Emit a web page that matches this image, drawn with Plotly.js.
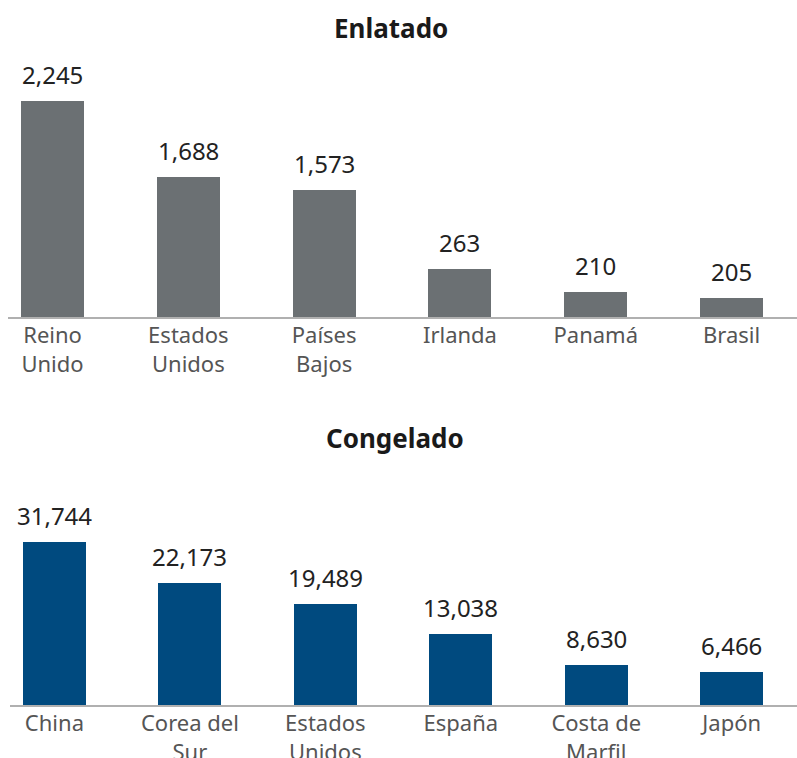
<!DOCTYPE html>
<html>
<head>
<meta charset="utf-8">
<script src="https://cdn.plot.ly/plotly-3.0.1.min.js"></script>
<style>html,body{margin:0;padding:0;background:#fff;}#chart{width:797px;height:758px;}</style>
</head>
<body>
<div id="chart"></div>
<script>
// Enlatado (canned)
const cannedCountries = ['Reino<br>Unido', 'Estados<br>Unidos', 'Países<br>Bajos', 'Irlanda', 'Panamá', 'Brasil'];
const cannedBarValues = [2245, 1455, 1320, 499, 260, 197];      // bar heights as drawn
const cannedLabels = ['2,245', '1,688', '1,573', '263', '210', '205'];

// Congelado (frozen)
const frozenCountries = ['China', 'Corea del<br>Sur', 'Estados<br>Unidos', 'España', 'Costa de<br>Marfil', 'Japón'];
const frozenBarValues = [31744, 23760, 19670, 13830, 7790, 6430];  // bar heights as drawn
const frozenLabels = ['31,744', '22,173', '19,489', '13,038', '8,630', '6,466'];

const FONT = 'Noto Sans, Open Sans, sans-serif';
const W = 797, H = 758;
const fy = px => (H - px) / H;
const fx = px => px / W;

const traces = [
  {
    type: 'bar', x: cannedCountries, y: cannedBarValues,
    marker: {color: '#6b7073'}, width: 0.464,
    xaxis: 'x', yaxis: 'y', hoverinfo: 'skip'
  },
  {
    type: 'bar', x: frozenCountries, y: frozenBarValues,
    marker: {color: '#004a7f'}, width: 0.464,
    xaxis: 'x2', yaxis: 'y2', hoverinfo: 'skip'
  }
];

const xCommon = {
  type: 'category', showgrid: false, zeroline: false,
  showline: true, linecolor: '#b0b0b0', linewidth: 1.5,
  ticks: '', tickfont: {family: FONT, size: 22, color: '#555'},
  ticklabelstandoff: -2,
  fixedrange: true, automargin: false
};
const yCommon = {
  showgrid: false, zeroline: false, showline: false, showticklabels: false,
  ticks: '', fixedrange: true
};

function valueLabels(cats, vals, labels, xr, yr) {
  return cats.map((c, i) => ({
    text: labels[i], x: c, y: vals[i], xref: xr, yref: yr,
    xanchor: 'center', yanchor: 'bottom', yshift: 8, showarrow: false,
    font: {family: FONT, size: 24, color: '#222'}
  }));
}

const layout = {
  width: W, height: H,
  margin: {l: 0, r: 0, t: 0, b: 0},
  paper_bgcolor: '#fff', plot_bgcolor: '#fff',
  showlegend: false, bargap: 0,
  font: {family: FONT},
  xaxis: Object.assign({}, xCommon, {domain: [fx(8), 1], range: [-0.328, 5.482], anchor: 'y'}),
  yaxis: Object.assign({}, yCommon, {domain: [fy(317), fy(60)], range: [0, 2245 * 257 / 216], anchor: 'x'}),
  xaxis2: Object.assign({}, xCommon, {domain: [fx(10), 1], range: [-0.328, 5.482], anchor: 'y2'}),
  yaxis2: Object.assign({}, yCommon, {domain: [fy(705), fy(470)], range: [0, 31744 * 235 / 163], anchor: 'x2'}),
  annotations: [
    {text: '<b>Enlatado</b>', xref: 'paper', yref: 'paper', x: fx(391), y: fy(28),
     xanchor: 'center', yanchor: 'middle', showarrow: false,
     font: {family: FONT, size: 26, color: '#1a1a1a'}},
    {text: '<b>Congelado</b>', xref: 'paper', yref: 'paper', x: fx(395), y: fy(438),
     xanchor: 'center', yanchor: 'middle', showarrow: false,
     font: {family: FONT, size: 26, color: '#1a1a1a'}}
  ].concat(
    valueLabels(cannedCountries, cannedBarValues, cannedLabels, 'x', 'y'),
    valueLabels(frozenCountries, frozenBarValues, frozenLabels, 'x2', 'y2')
  )
};

Plotly.newPlot('chart', traces, layout, {staticPlot: true, displayModeBar: false});
</script>
</body>
</html>
